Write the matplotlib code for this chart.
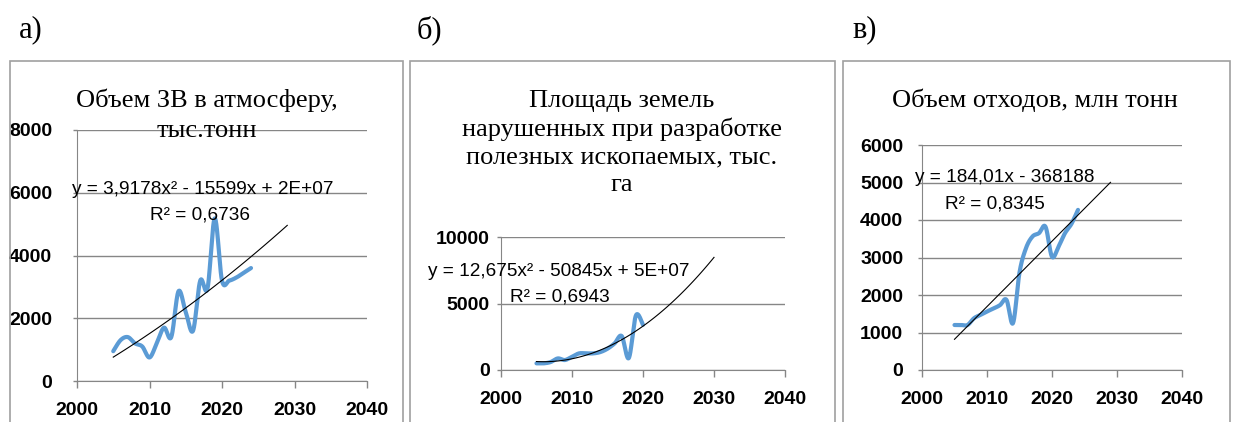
import numpy as np
import matplotlib.pyplot as plt
from matplotlib.patches import Rectangle

# --- data ---
years_a = list(range(2005, 2025))
emis_a = [950, 1300, 1400, 1200, 1100, 750, 1200, 1700, 1400, 2860,
          2200, 1600, 3200, 2950, 5180, 3200, 3200, 3300, 3450, 3600]

years_b = list(range(2005, 2021))
land_b = [500, 500, 600, 870, 750, 1000, 1250, 1250, 1250, 1350,
          1600, 2000, 2550, 900, 4100, 3400]

years_c = list(range(2005, 2025))
waste_c = [1200, 1200, 1200, 1380, 1470, 1560, 1640, 1730, 1870, 1250,
           2600, 3250, 3560, 3650, 3820, 3020, 3290, 3650, 3900, 4270]

titles = ["Объем ЗВ в атмосферу,\nтыс.тонн",
          "Площадь земель\nнарушенных при разработке\nполезных ископаемых, тыс.\nга",
          "Объем отходов, млн тонн"]
eqs = ["y = 3,9178x² - 15599x + 2E+07", "y = 12,675x² - 50845x + 5E+07",
       "y = 184,01x - 368188"]
r2s = ["R² = 0,6736", "R² = 0,6943", "R² = 0,8345"]
letters = ["а)", "б)", "в)"]

W, H = 1235, 422
BLUE = "#5B9BD5"
GRID = "#868686"
serif = ["Liberation Serif", "DejaVu Serif"]
sans = ["Liberation Sans", "DejaVu Sans"]


def smooth(x, y, n=24):
    # excel-like smoothed line (bezier through the points)
    x = np.asarray(x, float)
    y = np.asarray(y, float)
    P = np.column_stack([x, y])
    out = []
    t = np.linspace(0, 1, n)[:, None]
    for i in range(len(P) - 1):
        p0 = P[max(i - 1, 0)]
        p1 = P[i]
        p2 = P[i + 1]
        p3 = P[min(i + 2, len(P) - 1)]
        c1 = p1 + (p2 - p0) / 6
        c2 = p2 - (p3 - p1) / 6
        seg = ((1 - t) ** 3) * p1 + 3 * ((1 - t) ** 2) * t * c1 + 3 * (1 - t) * t ** 2 * c2 + t ** 3 * p2
        out.append(seg if i == 0 else seg[1:])
    s = np.vstack(out)
    return s[:, 0], s[:, 1]


def px(l, b, r, t):
    return [l / W, 1 - b / H, (r - l) / W, (b - t) / H]


fig = plt.figure(figsize=(W / 100, H / 100), dpi=100)

# panel frames
for l, r in [(10, 403), (410, 835), (843, 1230)]:
    fig.patches.append(Rectangle((l / W, -0.01), (r - l) / W, 1 - 61 / H + 0.01,
                                 transform=fig.transFigure, fill=False,
                                 edgecolor="#a0a0a0", lw=1.2))

for (x, lab) in zip([19, 417, 852], letters):
    fig.text(x / W, 1 - 30 / H, lab, family=serif, fontsize=22, va="center", ha="left")

panels = [
    dict(x=years_a, y=emis_a, deg=2, end=2029, box=px(77, 381, 367, 130),
         ylim=8000, step=2000, ypad=15),
    dict(x=years_b, y=land_b, deg=2, end=2030, box=px(501, 370, 785, 237),
         ylim=10000, step=5000, ypad=5),
    dict(x=years_c, y=waste_c, deg=1, end=2029, box=px(922, 370, 1182, 145),
         ylim=6000, step=1000, ypad=10.5),
]

for p in panels:
    ax = fig.add_axes(p["box"])
    ax.set_xlim(2000, 2040)
    ax.set_ylim(0, p["ylim"])
    ax.set_xticks(range(2000, 2041, 10))
    ax.set_yticks(range(0, p["ylim"] + 1, p["step"]))
    ax.grid(axis="y", color=GRID, lw=1)
    ax.set_axisbelow(True)
    for s in ["top", "right"]:
        ax.spines[s].set_visible(False)
    for s in ["left", "bottom"]:
        ax.spines[s].set_color(GRID)
    ax.tick_params(colors=GRID, width=1, labelcolor="black")
    ax.tick_params(axis="y", length=3, pad=p["ypad"])
    ax.tick_params(axis="x", length=5, pad=10)
    for lab in ax.get_xticklabels() + ax.get_yticklabels():
        lab.set_fontfamily(sans)
        lab.set_fontweight("bold")
        lab.set_fontsize(14)

    sx, sy = smooth(p["x"], p["y"])
    ax.plot(sx, sy, color=BLUE, lw=3, solid_capstyle="round", clip_on=False)

    fit = np.polynomial.Polynomial.fit(p["x"], p["y"], p["deg"])
    tx = np.linspace(p["x"][0], p["end"], 100)
    ax.plot(tx, fit(tx), color="black", lw=0.8)

# titles and trend labels
fig.text(207 / W, 1 - 115.5 / H, titles[0], family=serif, fontsize=19,
         ha="center", va="center", linespacing=1.45)
fig.text(622 / W, 1 - 143 / H, titles[1], family=serif, fontsize=19,
         ha="center", va="center", linespacing=1.32)
fig.text(1035 / W, 1 - 100 / H, titles[2], family=serif, fontsize=19,
         ha="center", va="center")

eq_pos = [(72, 190, 200, 215, "center"), (428, 272, 510, 297, "left"),
          (915, 178, 945, 204, "left")]
for (ex, ey, rx, ry, rha), e, r in zip(eq_pos, eqs, r2s):
    fig.text(ex / W, 1 - ey / H, e, family=sans, fontsize=13.7, ha="left", va="center")
    fig.text(rx / W, 1 - ry / H, r, family=sans, fontsize=13.7, ha=rha, va="center")

fig.savefig("out.png", dpi=100)
